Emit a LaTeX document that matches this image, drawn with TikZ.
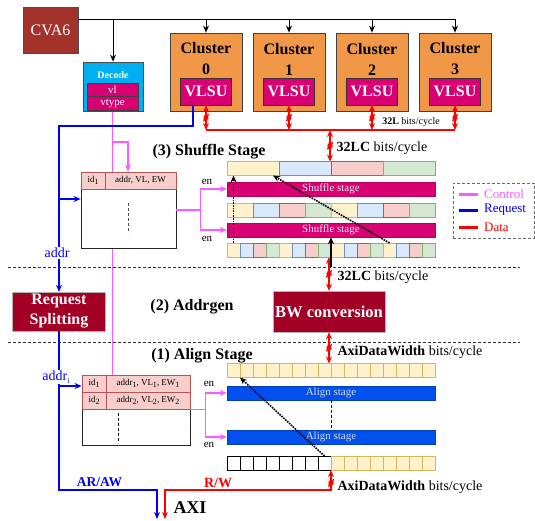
\documentclass[tikz,border=0pt]{standalone}
\usepackage{fontspec}
\setmainfont{Liberation Serif}
\usetikzlibrary{arrows.meta,positioning,backgrounds}

\definecolor{cvared}{RGB}{163,50,43}
\definecolor{splitred}{RGB}{162,0,37}
\definecolor{clorange}{RGB}{240,152,72}
\definecolor{vlsumag}{RGB}{216,0,115}
\definecolor{deccyan}{RGB}{0,175,240}
\definecolor{alblue}{RGB}{0,80,239}
\definecolor{ctrlmag}{RGB}{255,90,255}
\definecolor{reqblue}{RGB}{0,0,245}
\definecolor{datared}{RGB}{255,0,0}
\definecolor{yfill}{HTML}{FFF2CC}\definecolor{yline}{HTML}{D6B656}
\definecolor{bfill}{HTML}{DAE8FC}\definecolor{bline}{HTML}{6C8EBF}
\definecolor{rfill}{HTML}{F8CECC}\definecolor{rline}{HTML}{B85450}
\definecolor{gfill}{HTML}{D5E8D4}\definecolor{gline}{HTML}{82B366}

\newcommand{\lowidx}[1]{\raisebox{-0.4ex}{\fontsize{8}{9}\selectfont #1}}

\tikzset{
  % boxes
  hostbox/.style={draw=black!70, fill=cvared, text=white, line width=0.8pt, font=\fontsize{16}{19}\selectfont},
  decbox/.style={draw=black!70, fill=deccyan, minimum width=60pt, minimum height=49pt, line width=0.8pt},
  vfield/.style={draw=black!75, fill=vlsumag, text=white, minimum width=51pt, minimum height=13.5pt, inner sep=0pt, line width=0.8pt, font=\fontsize{11}{12}\selectfont},
  clbox/.style={draw=black!75, fill=clorange, minimum width=72pt, minimum height=78pt, line width=0.8pt},
  cltext/.style={align=center, inner sep=0pt, font=\fontsize{16}{21}\selectfont\bfseries},
  vlsubox/.style={draw=black!80, fill=vlsumag, text=white, minimum width=51pt, minimum height=27pt, inner sep=0pt, font=\fontsize{16}{19}\selectfont\bfseries},
  redbox/.style={draw=black!30, fill=splitred, text=white, inner sep=0pt, align=center, font=\fontsize{16}{20}\selectfont\bfseries},
  % stage rows
  cell/.style={inner sep=0pt, outer sep=0pt, minimum height=14pt, line width=0.8pt},
  cell0/.style={cell, draw=yline, fill=yfill},
  cell1/.style={cell, draw=bline, fill=bfill},
  cell2/.style={cell, draw=rline, fill=rfill},
  cell3/.style={cell, draw=gline, fill=gfill},
  emptycell/.style={cell, draw=black, fill=white},
  bar/.style={inner sep=0pt, minimum width=208pt, minimum height=14pt, font=\fontsize{11}{12}\selectfont},
  shufbar/.style={bar, fill=vlsumag, draw=vlsumag!85!black, text=white!92!black},
  alignbar/.style={bar, fill=alblue, draw=alblue!80!black, text=white!85!black},
  % tables
  tabbox/.style={draw=black!85, fill=white, line width=0.8pt},
  hdcell/.style={draw=rline, fill=rfill, inner sep=0pt, minimum height=17pt, line width=0.8pt, font=\fontsize{9}{10}\selectfont},
  % labels
  stagetitle/.style={font=\fontsize{16}{19}\selectfont\bfseries},
  ratelbl/.style={font=\fontsize{14}{16}\selectfont},
  enlbl/.style={font=\fontsize{11}{12}\selectfont},
  addrlbl/.style={text=reqblue, fill=white, inner sep=1pt, font=\fontsize{14}{16}\selectfont},
  % wires
  busline/.style={draw=black, line width=1pt},
  ctrl/.style={draw=ctrlmag, line width=1.3pt},
  req/.style={draw=reqblue, line width=1.8pt},
  data/.style={draw=datared, line width=2.2pt},
  dotarrow/.style={->, densely dotted, line width=1.6pt},
  busmark/.style={inner sep=0pt, minimum width=6pt, minimum height=8pt,
    path picture={\draw[datared, line width=1pt] (path picture bounding box.south west) -- (path picture bounding box.north east);}},
}

\begin{document}
\begin{tikzpicture}[x=1pt, y=-1pt, >={Stealth[length=7pt, width=6pt]}]
    \useasboundingbox (0,0) rectangle (535,520);

    % Host and decode
    \node[hostbox, minimum width=55pt, minimum height=46pt] (cva6) at (50.5,30) {CVA6};
    \node[decbox] (decode) at (113,86.5) {};
    \node[font=\fontsize{10}{12}\selectfont\bfseries, text=white] (dectitle) at (113,75) {Decode};
    \node[vfield] (vl) at (112.5,90) {vl};
    \node[vfield] (vtype) at (112.5,103.5) {vtype};

    % Clusters
    \foreach \i/\x in {0/206,1/289,2/372,3/455}{
        \node[clbox] (cl\i) at (\x,72) {};
        \node[cltext] (clt\i) at (\x,59) {Cluster\\\i};
        \node[vlsubox] (vlsu\i) at (\x,91.5) {VLSU};
    }

    \coordinate (bus) at (78,19);
    \draw[busline] (bus) -- (bus -| cl3);
    \draw[busline, ->] (bus -| decode) -- (decode.north);
    \foreach \i in {0,...,3} \draw[busline, ->] (bus -| cl\i) -- (cl\i.north);

    % Section titles and dividers
    \node[stagetitle] (title3) at (209,152) {(3) Shuffle Stage};
    \node[stagetitle] (title2) at (192,307) {(2) Addrgen};
    \node[stagetitle] (title1) at (202,356) {(1) Align Stage};
    \draw[densely dashed, black!80] (8,267) -- (520,267);
    \draw[densely dashed, black!80] (8,342) -- (520,342);

    % Shuffle stage rows
    \foreach \k in {1,...,4}{
        \pgfmathtruncatemacro\m{mod(\k-1,4)}
        \node[cell\m, minimum width=52pt] (a\k) at ({227+52*(\k-0.5)},168.5) {};
    }
    \node[shufbar] (sh1) at (331,189) {Shuffle stage};
    \foreach \k in {1,...,8}{
        \pgfmathtruncatemacro\m{mod(\k-1,4)}
        \node[cell\m, minimum width=26pt] (b\k) at ({227+26*(\k-0.5)},210) {};
    }
    \node[shufbar] (sh2) at (331,230) {Shuffle stage};
    \foreach \k in {1,...,16}{
        \pgfmathtruncatemacro\m{mod(\k-1,4)}
        \node[cell\m, minimum width=13pt] (c\k) at ({227+13*(\k-0.5)},250) {};
    }

    % Align stage rows
    \foreach \k in {1,...,16}
        \node[cell0, minimum width=13pt] (d\k) at ({227+13*(\k-0.5)},370.5) {};
    \node[alignbar] (al1) at (331,393) {Align stage};
    \node[alignbar] (al2) at (331,437) {Align stage};
    \foreach \k in {1,...,8}
        \node[emptycell, minimum width=13pt] (e\k) at ({227+13*(\k-0.5)},463) {};
    \foreach \k in {9,...,16}
        \node[cell0, minimum width=13pt] (e\k) at ({227+13*(\k-0.5)},463) {};

    % Tables
    \node[tabbox, minimum width=95pt, minimum height=76pt] (stab) at (128.5,210) {};
    \node[hdcell, minimum width=24pt] (sid) at (93,180.5) {id\lowidx{1}};
    \node[hdcell, minimum width=71pt] (sinfo) at (140.5,180.5) {addr, VL, EW};
    \draw[densely dashed, line width=1pt, black!70] (128,203) -- (128,233);

    \node[tabbox, minimum width=108pt, minimum height=70pt] (atab) at (136,410) {};
    \node[hdcell, minimum width=24pt] (aid1) at (94,383.5) {id\lowidx{1}};
    \node[hdcell, minimum width=84pt] (ainfo1) at (148,383.5) {addr\lowidx{1}, VL\lowidx{1}, EW\lowidx{1}};
    \node[hdcell, minimum width=24pt] (aid2) at (94,400.5) {id\lowidx{2}};
    \node[hdcell, minimum width=84pt] (ainfo2) at (148,400.5) {addr\lowidx{2}, VL\lowidx{2}, EW\lowidx{2}};
    \draw[densely dashed, line width=0.8pt] (118,413) -- (118,443);

    % Addrgen boxes
    \node[redbox, minimum width=93pt, minimum height=39pt] (split) at (59,311.5) {Request\\Splitting};
    \node[redbox, minimum width=112pt, minimum height=41pt, font=\fontsize{16.5}{20}\selectfont\bfseries] (bw) at (329,311.5) {BW conversion};

    % Control
    \begin{scope}[on background layer]
        \draw[ctrl] (vtype.south) -- (vtype.south |- atab.north);
    \end{scope}
    \coordinate (cj) at (112.5,142);
    \draw[ctrl, ->] (cj) -| ([xshift=-12.5pt]sinfo.north);
    \draw[ctrl, ->] (stab.east) -- ++(24,0) |- (sh1.west);
    \draw[ctrl, ->] (stab.east) -- ++(24,0) |- (sh2.west);
    \draw[ctrl, ->] (ainfo2.south east) -- ++(15,0) |- (al1.west);
    \draw[ctrl, ->] (ainfo2.south east) -- ++(15,0) |- (al2.west);
    \node[enlbl] (en1) at (207,182) {en};
    \node[enlbl] (en2) at (207,239) {en};
    \node[enlbl] (en3) at (209,384) {en};
    \node[enlbl] (en4) at (209,445) {en};

    % Request
    \coordinate (rj) at (59,126);
    \coordinate (sj) at (59,199);
    \coordinate (aj) at (59,386);
    \coordinate (arbend) at (157,490);
    \coordinate (arin) at (157,519);
    \draw[req, ->] ([xshift=-13pt]vlsu0.south) |- (rj) -- (split.north);
    \draw[req, ->] (sj) -- (sj -| stab.west);
    \draw[req, ->] (split.south) |- (arbend) -- (arin);
    \draw[req, ->] (aj) -- (aj -| atab.west);
    \node[addrlbl] (addr) at (57,253) {addr};
    \node[addrlbl] (addri) at (56,377) {addr\lowidx{i}};
    \node[text=reqblue, font=\fontsize{13.5}{16}\selectfont\bfseries] (arlbl) at (99.5,482) {AR/AW};

    % Data
    \coordinate (dbus) at (206,130);
    \coordinate (dmid) at (330,130);
    \foreach \i in {0,...,3}
        \draw[data, <->] (vlsu\i.south) -- node[busmark] {} (vlsu\i.south |- dbus);
    \draw[data] (dbus) -- (dbus -| vlsu3);
    \draw[data, <->] (dmid) -- node[busmark] {} (dmid |- a1.north);
    \draw[data, <->] (bw.north) -- node[busmark] {} (bw.north |- c9.south);
    \draw[data, <->] (bw.south) -- node[busmark] {} (bw.south |- d9.north);
    \coordinate (rwbend) at (165,490);
    \coordinate (rwin) at (165,519);
    \draw[data, <->] (e8.south east) |- node[busmark, pos=0.32] {} (rwbend) -- (rwin);
    \node[text=datared, font=\fontsize{14}{16}\selectfont\bfseries] (rwlbl) at (218,483) {R/W};
    \node[font=\fontsize{18}{20}\selectfont\bfseries] (axi) at (190,508) {AXI};

    \node[font=\fontsize{10}{12}\selectfont] (rate0) at (411,122) {\textbf{32L} bits/cycle};
    \node[ratelbl] (rate1) at (382,148) {\textbf{32LC} bits/cycle};
    \node[ratelbl] (rate2) at (383,277) {\textbf{32LC} bits/cycle};
    \node[ratelbl] (rate3) at (410,352) {\textbf{AxiDataWidth} bits/cycle};
    \node[ratelbl] (rate4) at (410,487) {\textbf{AxiDataWidth} bits/cycle};

    % Element movement
    \coordinate (shin) at (331,267);
    \draw[->, line width=1.2pt] (shin) -- (shin |- sh2.south);
    \draw[dotarrow] (c1.north) -- (c1.north |- a1.south);
    \draw[dotarrow] (c13.north) -- ([xshift=-6pt]a1.south east);
    \draw[dotarrow] (e8.north) -- (d1.south east);
    \draw[densely dashed, line width=1pt] (al1.south) -- (al2.north);

    % Legend
    \node[draw=black!60, densely dashed, minimum width=81pt, minimum height=55pt] (legend) at (493.5,210.5) {};
    \foreach \y/\c/\t in {194/ctrlmag/Control,210/reqblue/Request,227/datared/Data}{
        \draw[\c, line width=3pt] (459,\y) -- (478,\y);
        \node[anchor=west, text=\c, inner sep=0pt, font=\fontsize{13}{15}\selectfont] (leg\t) at (484,\y) {\t};
    }
\end{tikzpicture}
\end{document}
